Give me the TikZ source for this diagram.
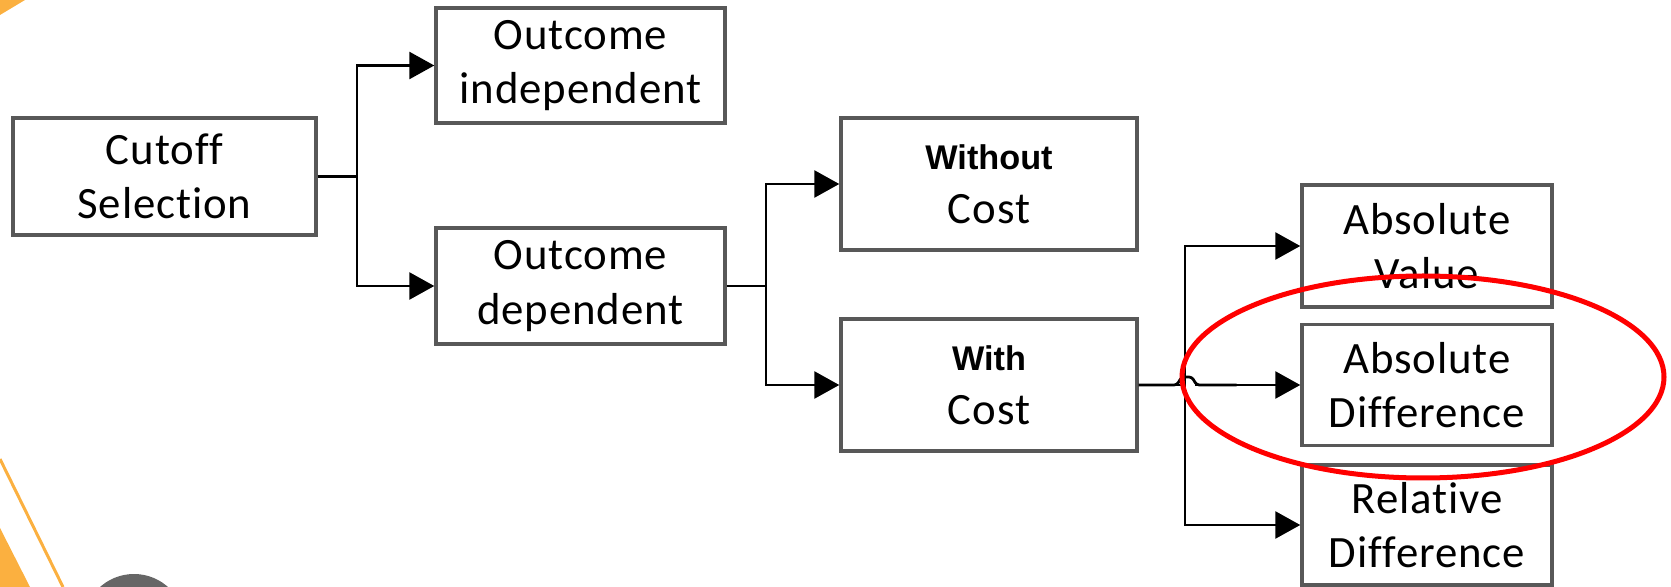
\documentclass[tikz,border=0pt]{standalone}
\usepackage{fontspec}
\setmainfont{Carlito}[Ligatures=NoCommon, LetterSpace=2]
\newfontfamily\arialfont{Liberation Sans}
\usetikzlibrary{arrows.meta}
\definecolor{corange}{RGB}{251,176,64}
\definecolor{cgray}{RGB}{102,102,102}
\definecolor{cedge}{RGB}{88,88,88}
\newcommand{\bfline}[1]{{\arialfont\bfseries\fontsize{19.5}{22}\selectfont #1}}

\begin{document}
\begin{tikzpicture}[
    x=0.02cm, y=-0.02cm,
    box/.style 2 args={draw=cedge, line width=0.07cm, fill=white, align=center, inner sep=0pt,
                minimum width=#1, minimum height=#2, font=\fontsize{25.5}{31}\selectfont},
    arr/.style={-{Triangle[length=0.5cm, width=0.54cm]}, line width=0.055cm},
    hopline/.style={line width=0.055cm, rounded corners=1.5pt},
  ]
  \useasboundingbox (0,0) rectangle (1671,587);

  %% Slide decoration
  \fill[corange] (0,0) -- (25,0) -- (0,15) -- cycle;
  \draw[corange, line width=0.06cm] (0,459) -- (63,587);
  \fill[corange] (0,528) -- (30,587) -- (0,587) -- cycle;
  \fill[cgray] (134,625) circle[radius=51];

  %% Level 1 and 2
  \node[box={6.06cm}{2.34cm}] (cutoff) at (164.5,176.5) {Cutoff\\Selection};
  \node[box={5.78cm}{2.30cm}] (indep) at (580.5,65.5) {Outcome\\independent};
  \node[box={5.78cm}{2.32cm}] (dep) at (580.5,286) {Outcome\\dependent};

  %% Level 3
  \node[box={5.92cm}{2.64cm}] (nocost) at (989,184) {\bfline{Without}\\Cost};
  \node[box={5.92cm}{2.64cm}] (cost) at (989,385) {\bfline{With}\\Cost};

  %% Level 4
  \node[box={5.00cm}{2.44cm}] (absval) at (1427,246) {Absolute\\Value};
  \node[box={5.00cm}{2.42cm}] (absdiff) at (1427,385) {Absolute\\Difference};
  \node[box={5.00cm}{2.40cm}] (reldiff) at (1427,525) {Relative\\Difference};

  %% Bus points
  \coordinate (b1) at (357,176.5);
  \coordinate (b2) at (766,286);
  \coordinate (b3) at (1185,385);

  %% Arrows
  \draw[arr] (cutoff.east) -- (b1) |- (indep.west);
  \draw[arr] (b1) |- (dep.west);
  \draw[arr] (dep.east) -- (b2) |- (nocost.west);
  \draw[arr] (b2) |- (cost.west);
  \draw[arr] (cost.east) -- (b3) |- (absval.west);
  \draw[arr] (b3) |- (reldiff.west);
  \draw[hopline] (cost.east) -- ++(38,0) -- ++(5,-8) -- ++(10,0) -- ++(5,8) -- ++(40,0);
  \draw[arr] (b3) ++(10,0) -- (absdiff.west);

  %% Highlight
  \draw[red, line width=0.1cm] (1423,377) ellipse[x radius=241, y radius=101];

\end{tikzpicture}
\end{document}
